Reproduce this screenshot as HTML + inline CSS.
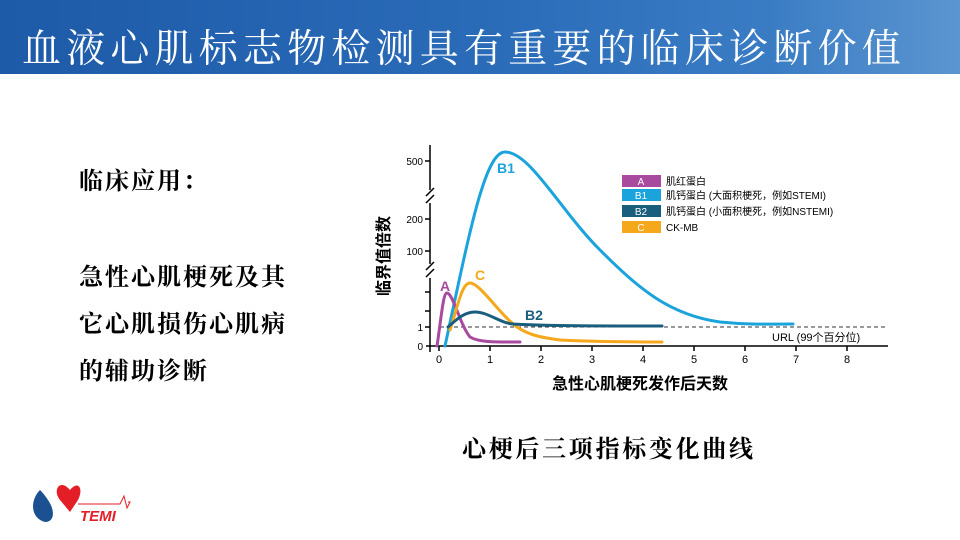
<!DOCTYPE html>
<html><head><meta charset="utf-8"><style>
body{margin:0;width:960px;height:540px;background:#fff;position:relative;overflow:hidden;font-family:"Liberation Serif","Noto Serif CJK SC",serif}
.hdr{position:absolute;left:0;top:0;width:960px;height:74px;background:linear-gradient(90deg,#1d5aa8 0%,#2a6bb8 50%,#3a7cc4 80%,#5b95d0 100%)}
.title{position:absolute;left:22px;top:26px;font-size:39px;letter-spacing:5.2px;color:#fff;white-space:nowrap;line-height:48px}
.t{position:absolute;left:79px;font-size:24px;letter-spacing:2px;color:#000;white-space:nowrap;line-height:30px;font-weight:bold}
.cap{position:absolute;left:462px;top:436px;font-size:24px;letter-spacing:2.7px;white-space:nowrap;line-height:28px;font-weight:bold}
</style></head><body>
<div class="hdr"></div>
<div class="title">血液心肌标志物检测具有重要的临床诊断价值</div>
<div class="t" style="top:167px">临床应用：</div>
<div class="t" style="top:263px">急性心肌梗死及其</div>
<div class="t" style="top:310px">它心肌损伤心肌病</div>
<div class="t" style="top:357px">的辅助诊断</div>
<div class="cap">心梗后三项指标变化曲线</div>
<svg width="960" height="540" style="position:absolute;left:0;top:0" font-family="Liberation Sans,Noto Sans CJK SC,sans-serif">
<g stroke="#000" stroke-width="1.5" fill="none">
<path d="M430 145V190M430 203V264M430 278V352"/>
<path d="M426 196l8 -8M426 203l8 -8M426 270l8 -8M426 277l8 -8"/>
<path d="M426 346H888"/>
<path d="M425 161h5M425 219h5M425 251h5M425 292h5M425 311h5M425 327h5"/>
<path d="M439 346v5M490 346v5M541 346v5M592 346v5M643 346v5M694 346v5M745 346v5M796 346v5M847 346v5"/>
</g>
<g font-size="10" fill="#000" text-anchor="end">
<text x="423" y="165">500</text><text x="423" y="223">200</text><text x="423" y="255">100</text><text x="423" y="331">1</text><text x="423" y="350">0</text>
</g>
<g font-size="11" fill="#000" text-anchor="middle">
<text x="439" y="363">0</text><text x="490" y="363">1</text><text x="541" y="363">2</text><text x="592" y="363">3</text><text x="643" y="363">4</text><text x="694" y="363">5</text><text x="745" y="363">6</text><text x="796" y="363">7</text><text x="847" y="363">8</text>
</g>
<path d="M440 327H888" stroke="#333" stroke-width="1" stroke-dasharray="4,3"/>
<text x="772" y="341" font-size="11">URL (99个百分位)</text>
<text x="640" y="389" font-size="16" text-anchor="middle" font-weight="bold">急性心肌梗死发作后天数</text>
<text transform="translate(389,256) rotate(-90)" font-size="16" text-anchor="middle" font-weight="bold">临界值倍数</text>
<g fill="none" stroke-width="3" stroke-linecap="round">
<path d="M445 346 C470 230, 485 152, 505 152 C530 152, 560 210, 600 250 C640 290, 670 315, 720 322 C750 325, 770 324, 793 324" stroke="#1ba3dc"/>
<path d="M437 346 C441 320, 443 293, 447 293 C453 293, 460 325, 470 337 C480 343, 500 342, 520 342" stroke="#a84a9e"/>
<path d="M450 330 C458 305, 462 283, 470 283 C480 283, 500 315, 517 327 C530 336, 545 338, 560 340 C600 342, 640 342, 662 342" stroke="#f5a81c"/>
<path d="M448 327 C458 318, 465 312, 475 312 C488 312, 500 323, 513 324 C550 326, 600 326, 662 326" stroke="#1a5e7e"/>
</g>
<g font-size="14" font-weight="bold">
<text x="440" y="291" fill="#a84a9e">A</text>
<text x="475" y="280" fill="#f5a81c">C</text>
<text x="497" y="173" fill="#1ba3dc">B1</text>
<text x="525" y="320" fill="#1a5e7e">B2</text>
</g>
<rect x="622" y="175" width="39" height="12" fill="#a84a9e"/>
<rect x="622" y="189" width="39" height="12" fill="#1ba3dc"/>
<rect x="622" y="205" width="39" height="12" fill="#1a5e7e"/>
<rect x="622" y="221" width="39" height="12" fill="#f5a81c"/>
<g font-size="10" fill="#fff" text-anchor="middle">
<text x="641" y="185">A</text><text x="641" y="199">B1</text><text x="641" y="215">B2</text><text x="641" y="231">C</text>
</g>
<g font-size="10" fill="#000">
<text x="666" y="185">肌红蛋白</text>
<text x="666" y="199">肌钙蛋白 (大面积梗死，例如STEMI)</text>
<text x="666" y="215">肌钙蛋白 (小面积梗死，例如NSTEMI)</text>
<text x="666" y="231">CK-MB</text>
</g>
<path d="M40 490 C30 500, 30 518, 45 522 C55 522, 55 510, 48 500 C44 494, 42 492, 40 490Z" fill="#1c5191"/>
<path d="M70 490 C60 478, 52 490, 60 500 L70 512 L78 500 C84 488, 78 480, 70 490Z" fill="#e41e26"/>
<path d="M78 504H120l4 -8l3 12l3 -6H128" stroke="#e41e26" stroke-width="1" fill="none"/>
<text x="80" y="521" font-size="15" font-weight="bold" font-style="italic" fill="#e41e26">TEMI</text>
</svg>
</body></html>
